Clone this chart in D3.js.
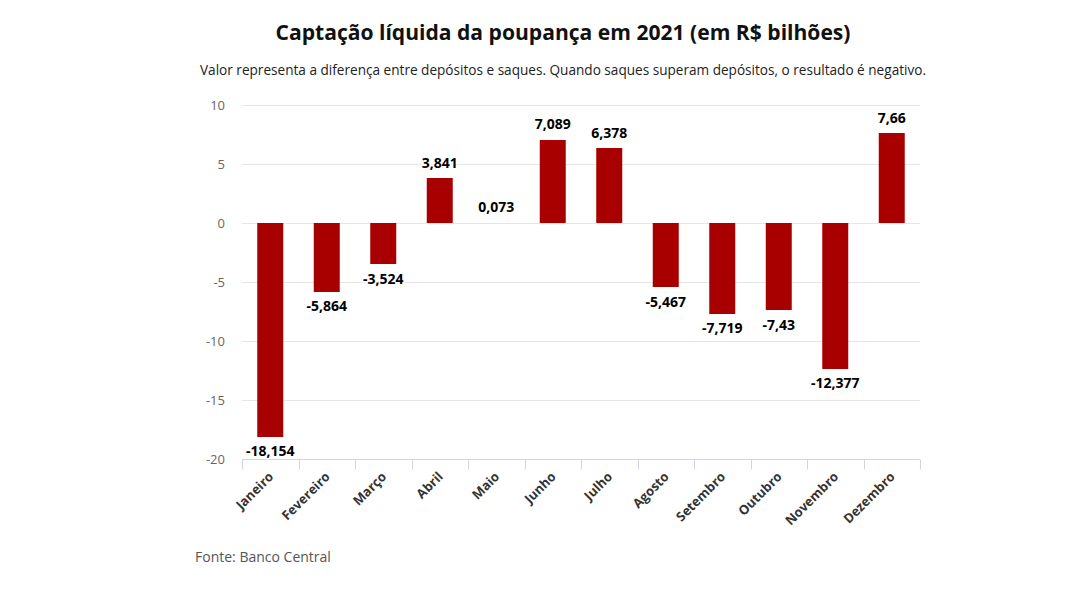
<!DOCTYPE html>
<html><head><meta charset="utf-8">
<script src="https://cdn.jsdelivr.net/npm/d3@7"></script>
<style>body{margin:0;background:#fff;font-family:"Open Sans",sans-serif;}</style>
</head><body><svg id="c" width="1080" height="596"></svg>
<script>
const months = ["Janeiro","Fevereiro","Março","Abril","Maio","Junho","Julho","Agosto","Setembro","Outubro","Novembro","Dezembro"];
const values = [-18.154,-5.864,-3.524,3.841,0.073,7.089,6.378,-5.467,-7.719,-7.43,-12.377,7.66];
const valueLabels = ["-18,154","-5,864","-3,524","3,841","0,073","7,089","6,378","-5,467","-7,719","-7,43","-12,377","7,66"];
const yTicks = [-20,-15,-10,-5,0,5,10];
const title = "Captação líquida da poupança em 2021 (em R$ bilhões)";
const subtitle = "Valor representa a diferença entre depósitos e saques. Quando saques superam depósitos, o resultado é negativo.";
const source = "Fonte: Banco Central";

const svg = d3.select("#c");
const x = d3.scaleBand().domain(months).range([242,920]).paddingInner(0.54).paddingOuter(0.27);
const y = d3.scaleLinear().domain([-20,10]).range([459,105]);

svg.append("text").attr("x",563).attr("y",40).attr("text-anchor","middle")
  .attr("font-size",21).attr("font-weight",700).attr("fill","#111")
  .attr("textLength",575).attr("lengthAdjust","spacingAndGlyphs").text(title);
svg.append("text").attr("x",563).attr("y",75).attr("text-anchor","middle")
  .attr("font-size",14).attr("fill","#222")
  .attr("textLength",726).attr("lengthAdjust","spacingAndGlyphs").text(subtitle);

// grid
svg.append("g").selectAll("line").data(yTicks.filter(d=>d!==-20)).join("line")
  .attr("x1",242).attr("x2",920).attr("y1",d=>y(d)+0.5).attr("y2",d=>y(d)+0.5)
  .attr("stroke","#e6e6e6").attr("stroke-width",1);

// y labels
svg.append("g").selectAll("text").data(yTicks).join("text")
  .attr("x",225).attr("y",d=>y(d)+4.5).attr("text-anchor","end")
  .attr("font-size",13).attr("fill","#666").text(d=>d);

// bars (pixel heights floored, so sub-pixel bars vanish as in the original)
svg.append("g").selectAll("rect").data(values).join("rect")
  .attr("x",(d,i)=>x(months[i])).attr("width",x.bandwidth())
  .attr("y",d=>d>=0 ? y(0)-Math.floor(y(0)-y(d)) : y(0))
  .attr("height",d=>Math.floor(Math.abs(y(d)-y(0))))
  .attr("fill","#a80000");

// x axis
const xa = svg.append("g").attr("transform","translate(0,"+(y(-20)+0.5)+")");
xa.append("line").attr("x1",242).attr("x2",920).attr("stroke","#ccd6eb");
const bounds = months.map(m=>x(m)-x.step()*x.paddingInner()/2);
bounds[0]=242; bounds.push(920);
xa.selectAll("line.t").data(bounds).join("line").attr("class","t")
  .attr("x1",d=>Math.round(d)+0.5).attr("x2",d=>Math.round(d)+0.5).attr("y1",0).attr("y2",10)
  .attr("stroke","#ccd6eb");
xa.selectAll("text").data(months).join("text")
  .attr("transform",d=>"translate("+(x(d)+x.bandwidth()/2+4)+",18) rotate(-45)")
  .attr("text-anchor","end").attr("font-size",13).attr("font-weight",700).attr("fill","#333")
  .text(d=>d);

// data labels
svg.append("g").selectAll("text").data(values).join("text")
  .attr("x",(d,i)=>x(months[i])+x.bandwidth()/2)
  .attr("y",d=>d>=0 ? y(d)-10 : y(d)+19)
  .attr("text-anchor","middle").attr("font-size",14).attr("font-weight",700).attr("fill","#000")
  .attr("stroke","#fff").attr("stroke-width",3).attr("paint-order","stroke").attr("stroke-linejoin","round")
  .text((d,i)=>valueLabels[i]);

svg.append("text").attr("x",195).attr("y",562).attr("font-size",14).attr("fill","#555").text(source);
</script></body></html>
